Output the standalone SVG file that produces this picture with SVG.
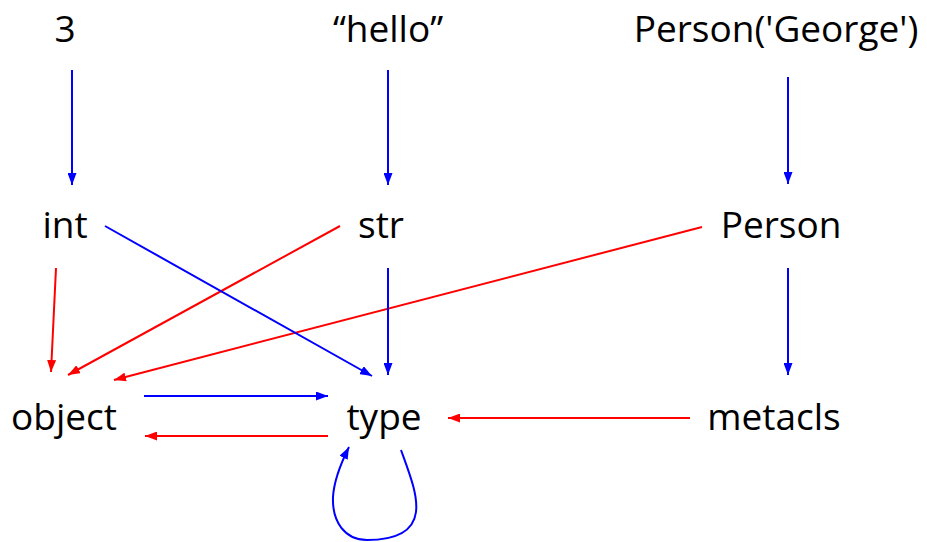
<svg xmlns="http://www.w3.org/2000/svg" width="927" height="542" viewBox="0 0 927 542">
<defs>
<style>
text{font-family:"Open Sans","Noto Sans",sans-serif;font-size:37px;fill:#000;text-anchor:middle}
.b{stroke:#0000ff;stroke-width:2;fill:none;marker-end:url(#ab)}
.r{stroke:#ff0000;stroke-width:2;fill:none;marker-end:url(#ar)}
</style>
<marker id="ab" markerUnits="userSpaceOnUse" markerWidth="13" markerHeight="9" refX="12" refY="4.5" orient="auto"><path d="M0,0 L12,4.5 L0,9 z" fill="#0000ff"/></marker>
<marker id="ar" markerUnits="userSpaceOnUse" markerWidth="13" markerHeight="9" refX="12" refY="4.5" orient="auto"><path d="M0,0 L12,4.5 L0,9 z" fill="#ff0000"/></marker>
</defs>
<rect width="927" height="542" fill="#fff"/>
<g id="n3"><text x="65" y="42">3</text></g>
<g id="nhello"><text x="388" y="42">“hello”</text></g>
<g id="ngeorge"><text x="776" y="42">Person('George')</text></g>
<g id="nint"><text x="65" y="238">int</text></g>
<g id="nstr"><text x="381" y="238">str</text></g>
<g id="nperson"><text x="781" y="238">Person</text></g>
<g id="nobject"><text x="64" y="430">object</text></g>
<g id="ntype"><text x="384" y="430">type</text></g>
<g id="nmetacls"><text x="774" y="430">metacls</text></g>
<g id="connectors">
<line class="b" x1="72" y1="70" x2="72" y2="185"/>
<line class="b" x1="388" y1="70" x2="388" y2="185"/>
<line class="b" x1="788" y1="77" x2="788" y2="184"/>
<line class="r" x1="56" y1="268" x2="51" y2="372"/>
<line class="r" x1="340" y1="226" x2="68" y2="375"/>
<line class="r" x1="702" y1="227" x2="114" y2="380"/>
<line class="b" x1="105" y1="226" x2="372" y2="376"/>
<line class="b" x1="388" y1="268" x2="388" y2="375"/>
<line class="b" x1="788" y1="268" x2="788" y2="375"/>
<line class="b" x1="144" y1="396" x2="328" y2="396"/>
<line class="r" x1="328" y1="436" x2="145" y2="436"/>
<line class="r" x1="690" y1="418" x2="448" y2="418"/>
<path class="b" d="M401,450 C410,475 418,495 416,512 C413,535 390,540 367,540 C345,540 332,522 333,497 C334,480 340,465 349,447"/>
</g>
</svg>
